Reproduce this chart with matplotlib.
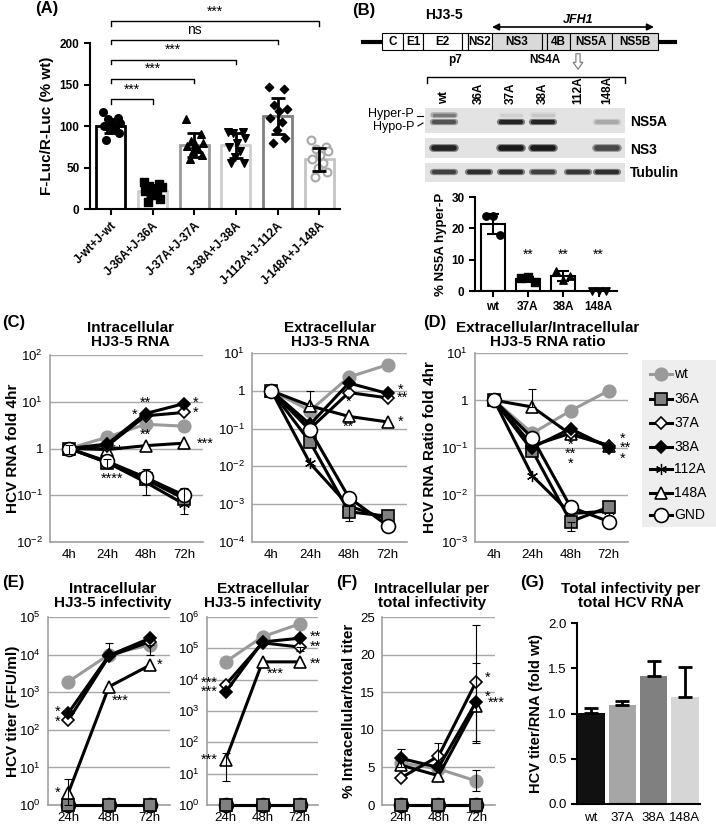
import numpy as np
import matplotlib
matplotlib.use('Agg')
import matplotlib.pyplot as plt
from matplotlib import patches
from matplotlib.ticker import NullLocator

plt.rcParams['font.family'] = ['Liberation Sans', 'DejaVu Sans']
plt.rcParams['mathtext.fontset'] = 'custom'
plt.rcParams['mathtext.rm'] = 'Liberation Sans'
plt.rcParams['mathtext.it'] = 'Liberation Sans:italic'
plt.rcParams['mathtext.bf'] = 'Liberation Sans:bold'

# ---------------- data ----------------
# (A) F-Luc/R-Luc
a_groups = ['J-wt+J-wt', 'J-36A+J-36A', 'J-37A+J-37A', 'J-38A+J-38A', 'J-112A+J-112A', 'J-148A+J-148A']
a_means = [100, 22, 77, 77, 112, 60]
a_sd = [9, 7, 14, 15, 22, 14]
a_pts_wt = [117, 110, 108, 104, 102, 100, 98, 95, 92, 83]
a_pts_36 = [32, 30, 28, 26, 24, 22, 20, 17, 12, 8]
a_pts_37 = [108, 90, 82, 80, 78, 76, 72, 70, 65, 60]
a_pts_38 = [93, 93, 91, 85, 80, 75, 70, 63, 55, 55]
a_pts_112 = [147, 145, 125, 120, 118, 110, 105, 95, 85, 80]
a_pts_148 = [83, 75, 72, 70, 65, 60, 55, 50, 45, 38]
a_brackets = [(1, 132, '***'), (2, 157, '***'), (3, 180, '***'), (4, 204, 'ns'), (5, 226, '***')]

# (B) western blot + hyper-P quantification
blot_lanes = ['wt', '36A', '37A', '38A', '112A', '148A']
band_hyper = [0.5, 0, 0.05, 0.1, 0, 0]
band_hypo = [0.7, 0, 0.95, 0.95, 0, 0.25]
band_ns3 = [0.95, 0, 1.0, 1.0, 0, 0.75]
band_tub = [0.8, 0.9, 0.9, 0.8, 0.85, 0.9]
genome_parts = ['C', 'E1', 'E2', '', 'NS2', 'NS3', '', '4B', 'NS5A', 'NS5B']
b_groups = ['wt', '37A', '38A', '148A']
b_means = [21.3, 3.8, 4.8, 0]
b_sd = [3.2, 0.8, 1.6, 0]
b_pts = [[23.8, 23.8, 17.8], [4.3, 4.4, 3.0], [6.3, 3.4, 4.8], [0, 0, 0]]
b_stars = ['', '**', '**', '**']

times4 = ['4h', '24h', '48h', '72h']
times3 = ['24h', '48h', '72h']

# (C) intracellular RNA (fold 4hr)
c_intra = {
    'wt': [1, 1.75, 3.3, 3.0],
    '112A': [1, 0.5, 0.19, 0.065],
    '36A': [1, 0.5, 0.22, 0.085],
    '148A': [1, 0.95, 1.15, 1.3],
    '37A': [1, 1.15, 5.0, 5.9],
    '38A': [1, 1.25, 5.6, 9.1],
    'GND': [1, 0.53, 0.24, 0.1],
}
c_intra_err = [('GND', 0, 0.78, 1.2), ('GND', 1, 0.38, 0.6), ('GND', 2, 0.1, 0.36),
               ('GND', 3, 0.04, 0.14), ('38A', 3, 8, 10.5)]
c_intra_stars = [(2.0, 9.5, '**'), (1.72, 5.3, '*'), (3.3, 9.5, '*'), (3.3, 5.8, '*'),
                 (2.0, 2.0, '**'), (3.55, 1.26, '***'), (1.25, 0.9, '**'), (1.12, 0.23, '****')]

# (C) extracellular RNA
c_extra = {
    'wt': [1, 0.3, 2.3, 4.9],
    '112A': [1, 0.012, 0.0009, 0.0004],
    '36A': [1, 0.044, 0.00063, 0.00048],
    '148A': [1, 0.4, 0.21, 0.15],
    '37A': [1, 0.1, 0.9, 0.65],
    '38A': [1, 0.13, 1.6, 0.85],
    'GND': [1, 0.09, 0.0015, 0.00027],
}
c_extra_err = [('148A', 1, 0.4, 1.0), ('36A', 2, 0.00035, 0.0009)]
c_extra_stars = [(2.0, 0.5, '*'), (2.0, 0.11, '**'), (3.33, 1.07, '*'), (3.38, 0.65, '**'),
                 (3.33, 0.15, '*')]

# (D) extra/intra ratio
d_ratio = {
    'wt': [1, 0.2, 0.6, 1.6],
    '112A': [1, 0.025, 0.004, 0.0045],
    '36A': [1, 0.085, 0.0027, 0.0055],
    '148A': [1, 0.72, 0.19, 0.11],
    '37A': [1, 0.11, 0.2, 0.11],
    '38A': [1, 0.1, 0.25, 0.1],
    'GND': [1, 0.16, 0.0055, 0.0027],
}
d_ratio_err = [('148A', 1, 0.72, 1.7), ('36A', 2, 0.0017, 0.0027)]
d_ratio_stars = [(2.0, 0.115, '*'), (2.0, 0.075, '**'), (2.0, 0.046, '*'),
                 (3.37, 0.155, '*'), (3.42, 0.1, '**'), (3.37, 0.059, '*')]

# (E) infectivity titers
e_intra = {
    'GND': [1, 1, 1],
    '36A': [1, 1, 1],
    'wt': [1900, 10000, 18000],
    '148A': [2.1, 1400, 5200],
    '37A': [180, 9000, 22000],
    '38A': [280, 9500, 27000],
}
e_intra_err = [('148A', 0, 1.0, 5), ('38A', 1, 9500, 20000), ('wt', 2, 10000, 18000)]
e_intra_stars = [(-0.27, 297, '*'), (-0.27, 162, '*'), (1.28, 600, '***'), (2.25, 5200, '*'),
                 (-0.27, 2.1, '*')]

e_extra = {
    'GND': [1, 1, 1],
    '36A': [1, 1, 1],
    'wt': [37000, 234000, 600000],
    '148A': [27, 37000, 37000],
    '37A': [6800, 150000, 110000],
    '38A': [4000, 160000, 210000],
}
e_extra_err = [('148A', 0, 6, 45), ('37A', 2, 80000, 110000)]
e_extra_stars = [(2.42, 2.3e5, '**'), (2.42, 1.1e5, '**'), (2.42, 3.2e4, '**'),
                 (1.34, 1.5e4, '***'), (-0.45, 7900, '***'), (-0.45, 4100, '***'), (-0.45, 27, '***')]

# (F) % intracellular / total titer
f_pct = {
    'GND': [0, 0, 0],
    '36A': [0, 0, 0],
    'wt': [5.6, 4.8, 3.2],
    '148A': [5.3, 3.9, 13.2],
    '37A': [3.6, 6.5, 16.4],
    '38A': [6.2, 5.0, 13.7],
}
f_pct_err = [('38A', 0, 5.0, 7.4), ('37A', 1, 5.0, 8.3), ('37A', 2, 8.5, 24.0),
             ('38A', 2, 8.3, 18.9), ('wt', 2, 1.8, 4.7)]
f_pct_stars = [(2.3, 16.9, '*'), (2.3, 14.4, '*'), (2.52, 13.6, '***')]

# (G) titer per RNA
g_groups = ['wt', '37A', '38A', '148A']
g_vals = [1.01, 1.09, 1.41, 1.18]
g_err = [0.05, 0.05, 0.17, 0.33]

legend_order = ['wt', '36A', '37A', '38A', '112A', '148A', 'GND']

# ---------------- styles ----------------
W, H = 716, 825
fig = plt.figure(figsize=(W / 100, H / 100), dpi=100)

styles = {
    'wt': dict(color='#9a9a9a', marker='o', mfc='#9a9a9a', mec='#9a9a9a', ms=9, mew=1.2),
    '36A': dict(color='k', marker='s', mfc='#808080', mec='k', ms=8, mew=1.2),
    '37A': dict(color='k', marker='D', mfc='white', mec='k', ms=6, mew=1.2),
    '38A': dict(color='k', marker='D', mfc='k', mec='k', ms=6, mew=1.2),
    '112A': dict(color='k', marker=(6, 2, 0), mfc='k', mec='k', ms=8, mew=0.9),
    '148A': dict(color='k', marker='^', mfc='white', mec='k', ms=9, mew=1.2),
    'GND': dict(color='k', marker='o', mfc='white', mec='k', ms=10, mew=1.2),
}


def px_axes(x0, y0, x1, y1):
    return fig.add_axes([x0 / W, 1 - y1 / H, (x1 - x0) / W, (y1 - y0) / H])


def pow_label(e):
    return '1' if e == 0 else r'$10^{%d}$' % e


# overlay in pixel coordinates for drawings / titles
ov = fig.add_axes([0, 0, 1, 1])
ov.set_xlim(0, W)
ov.set_ylim(H, 0)
ov.axis('off')

for lab, x, y in [('(A)', 35, 8), ('(B)', 352, 10), ('(C)', 2, 323), ('(D)', 423, 323),
                  ('(E)', 2, 583), ('(F)', 336, 583), ('(G)', 520, 583)]:
    ov.text(x, y, lab, fontsize=12, fontweight='bold', va='center', ha='left')

for txt, x, y in [('Intracellular\nHJ3-5 RNA', 130, 335), ('Extracellular\nHJ3-5 RNA', 330, 335),
                  ('Extracellular/Intracellular\nHJ3-5 RNA ratio', 548, 335),
                  ('Intracellular\nHJ3-5 infectivity', 113, 596),
                  ('Extracellular\nHJ3-5 infectivity', 263, 596),
                  ('Intracellular per\ntotal infectivity', 432, 596),
                  ('Total infectivity per\ntotal HCV RNA', 631, 596)]:
    ov.text(x, y, txt, fontsize=11, fontweight='bold', ha='center', va='center', linespacing=1.05)

# ---------------- (A) ----------------
ax = px_axes(90, 43, 340, 209)
xa = np.arange(len(a_groups))
a_edge = ['k', '#cfcfcf', '#9a9a9a', '#cfcfcf', '#808080', '#c4c4c4']
ax.bar(xa, a_means, width=0.7, color='white', edgecolor=a_edge, linewidth=2, zorder=1)
jit = np.array([-0.2, 0.16, -0.08, 0.22, 0.03, -0.17, 0.1, -0.02, 0.19, -0.11])
a_pts = [a_pts_wt, a_pts_36, a_pts_37, a_pts_38, a_pts_112, a_pts_148]
a_mk = [dict(marker='o', c='k'), dict(marker='s', c='k'), dict(marker='^', c='k'),
        dict(marker='v', c='k'), dict(marker='D', c='k', s=18)]
for i, pts in enumerate(a_pts):
    if i < 5:
        kw = dict(s=30)
        kw.update(a_mk[i])
        ax.scatter(xa[i] + jit[:len(pts)], pts, zorder=2, **kw)
    else:
        ax.scatter(xa[i] + jit[:len(pts)], pts, s=32, facecolor='white', edgecolor='#a8a8a8',
                   linewidth=1.5, zorder=2)
ax.errorbar(xa, a_means, yerr=a_sd, fmt='none', ecolor='k', elinewidth=2, capsize=5,
            capthick=2, zorder=3)
for j, yb, lab in a_brackets:
    ax.plot([0, 0, j, j], [yb - 5, yb, yb, yb - 5], color='k', lw=1, clip_on=False)
    ax.text(j / 2, yb + 3, lab, ha='center', va='bottom', fontsize=10)
ax.set_xlim(-0.5, 5.5)
ax.set_ylim(0, 200)
ax.set_yticks([0, 50, 100, 150, 200])
ax.set_xticks(xa)
ax.set_xticklabels(a_groups, rotation=45, ha='right', rotation_mode='anchor',
                   fontweight='bold', fontsize=8.5)
for t in ax.get_yticklabels():
    t.set_fontweight('bold')
ax.tick_params(labelsize=8.5, width=1.5, length=4)
ax.tick_params(axis='x', labelsize=8.5)
for s in ['top', 'right']:
    ax.spines[s].set_visible(False)
for s in ['left', 'bottom']:
    ax.spines[s].set_linewidth(1.5)
ax.set_ylabel('F-Luc/R-Luc (% wt)', fontweight='bold', fontsize=11, labelpad=4)
ax.patch.set_alpha(0)

# ---------------- (B) drawing ----------------
ov.text(425, 15, 'HJ3-5', fontsize=10, fontweight='bold', va='center')
ov.plot([363, 675], [42, 42], color='k', lw=3, zorder=1)
edges = [382, 403, 423, 462, 468, 492, 542, 547, 570, 612, 658]
for k, lab in enumerate(genome_parts):
    fc = 'white' if k < 5 else '#d9d9d9'
    ov.add_patch(patches.Rectangle((edges[k], 33), edges[k + 1] - edges[k], 17, facecolor=fc,
                                   edgecolor='k', lw=0.8, zorder=2))
    if lab:
        ov.text((edges[k] + edges[k + 1]) / 2, 42, lab, fontsize=8.5, fontweight='bold',
                ha='center', va='center', zorder=3)
ov.text(455, 60, 'p7', fontsize=8.5, fontweight='bold', ha='center', va='center')
ov.text(545, 60, 'NS4A', fontsize=8.5, fontweight='bold', ha='center', va='center')
ov.annotate('', xy=(492, 27), xytext=(654, 27),
            arrowprops=dict(arrowstyle='<|-|>', color='k', lw=1.2, shrinkA=0, shrinkB=0))
ov.text(578, 20, 'JFH1', fontsize=9, fontweight='bold', style='italic', ha='center', va='center')
ov.annotate('', xy=(578, 72), xytext=(578, 51),
            arrowprops=dict(arrowstyle='simple,head_width=0.7,head_length=0.5,tail_width=0.3',
                            fc='white', ec='#777777', lw=0.8))
ov.plot([427, 427, 625, 625], [83, 77, 77, 83], color='k', lw=1)

lane_x = [444, 479, 511, 543, 578, 607]
for cx, lab in zip(lane_x, blot_lanes):
    ov.text(cx, 104, lab, rotation=90, fontsize=8.5, fontweight='bold', ha='center', va='bottom')

for y0, y1 in [(108, 133), (138, 158), (163, 182)]:
    ov.add_patch(patches.Rectangle((425, y0), 200, y1 - y0, facecolor='#e3e3e3', edgecolor='none'))


def band(cx, y, v, h):
    if v <= 0:
        return
    # soft edge then darker core
    ov.plot([cx - 11, cx + 11], [y, y], color=str(0.9 - 0.45 * v), lw=h + 1.5,
            solid_capstyle='round')
    ov.plot([cx - 10, cx + 10], [y, y], color=str(0.85 - 0.75 * v), lw=h,
            solid_capstyle='round')


for i, cx in enumerate(lane_x):
    band(cx, 115, band_hyper[i], 2.5)
    band(cx, 122, band_hypo[i], 3)
    band(cx, 148, band_ns3[i], 4)
    band(cx, 172, band_tub[i], 3)
ov.text(630, 122, 'NS5A', fontsize=10, fontweight='bold', va='center')
ov.text(630, 150, 'NS3', fontsize=10, fontweight='bold', va='center')
ov.text(630, 173, 'Tubulin', fontsize=10, fontweight='bold', va='center')
ov.text(368, 114, 'Hyper-P', fontsize=9, va='center')
ov.text(373, 127, 'Hypo-P', fontsize=9, va='center')
ov.plot([417, 423], [116, 116], color='k', lw=0.8)
ov.plot([418, 423], [126, 123], color='k', lw=0.8)

# (B) quantification
ax = px_axes(475, 197, 617, 291)
xb = np.arange(len(b_groups))
ax.bar(xb, b_means, width=0.68, color='white', edgecolor='k', linewidth=1.5, zorder=1)
ax.errorbar(xb, b_means, yerr=b_sd, fmt='none', ecolor='k', elinewidth=1.5, capsize=4,
            capthick=1.5, zorder=3)
b_mk = ['o', 's', '^', 'v']
boff = [-0.2, 0.0, 0.2]
for i, pts in enumerate(b_pts):
    ax.scatter(xb[i] + np.array(boff), pts, marker=b_mk[i], s=28, c='k', zorder=2, clip_on=False)
    if b_stars[i]:
        ax.text(xb[i], 11.5, b_stars[i], ha='center', va='center', fontsize=10)
ax.set_xlim(-0.5, 3.52)
ax.set_ylim(0, 30)
ax.set_yticks([0, 10, 20, 30])
ax.set_xticks(xb)
ax.set_xticklabels(b_groups, fontweight='bold')
for t in ax.get_yticklabels():
    t.set_fontweight('bold')
ax.tick_params(labelsize=8.5, width=1.5, length=4)
for s in ['top', 'right']:
    ax.spines[s].set_visible(False)
for s in ['left', 'bottom']:
    ax.spines[s].set_linewidth(1.5)
ax.set_ylabel('% NS5A hyper-P', fontweight='bold', fontsize=9.5, labelpad=3)
ax.patch.set_alpha(0)


# ---------------- line panels ----------------
def line_panel(box, labels, data, errs, stars, ylim, ticks, ticklabels, ylabel=None, log=True,
               label_x=None):
    ax = px_axes(*box)
    x = np.arange(len(labels))
    if log:
        ax.set_yscale('log')
    for name, vals in data.items():
        st = styles[name]
        ax.plot(x, vals, color=st['color'], lw=2.2, marker=st['marker'], ms=st['ms'],
                mfc=st['mfc'], mec=st['mec'], mew=st['mew'], zorder=3, clip_on=False)
    for name, k, lo, hi in errs:
        v = data[name][k]
        ax.errorbar([k], [v], yerr=[[v - lo], [hi - v]], fmt='none', ecolor='k', elinewidth=0.8,
                    capsize=3, capthick=0.8, zorder=4)
    for sx, sy, s in stars:
        ax.text(sx, sy, s, ha='center', va='center', fontsize=10.5, zorder=5)
    ax.set_xlim(-0.5, len(labels) - 0.5)
    ax.set_ylim(*ylim)
    ax.set_yticks(ticks)
    ax.set_yticklabels(ticklabels)
    ax.yaxis.set_minor_locator(NullLocator())
    ax.set_xticks(x)
    ax.set_xticklabels(labels)
    ax.tick_params(length=0, labelsize=9.5, pad=5)
    ax.grid(axis='y', color='#a8a8a8', lw=1)
    ax.set_axisbelow(True)
    for s in ['top', 'right']:
        ax.spines[s].set_visible(False)
    for s in ['left', 'bottom']:
        ax.spines[s].set_color('#a0a0a0')
        ax.spines[s].set_linewidth(1.2)
    if ylabel:
        ax.set_ylabel(ylabel, fontweight='bold', fontsize=11, labelpad=3)
        if label_x is not None:
            ax.yaxis.set_label_coords((label_x - box[0]) / (box[2] - box[0]), 0.5)
    ax.patch.set_alpha(0)
    return ax


line_panel((50, 355, 203, 542), times4, c_intra, c_intra_err, c_intra_stars, (1e-2, 1e2),
           [1e-2, 1e-1, 1, 1e1, 1e2], [pow_label(e) for e in range(-2, 3)], 'HCV RNA fold 4hr',
           label_x=20)
line_panel((252, 353, 407, 542), times4, c_extra, c_extra_err, c_extra_stars, (1e-4, 1e1),
           [10.0 ** e for e in range(-4, 2)], [pow_label(e) for e in range(-4, 2)])
line_panel((475, 353, 628, 542), times4, d_ratio, d_ratio_err, d_ratio_stars, (1e-3, 1e1),
           [10.0 ** e for e in range(-3, 2)], [pow_label(e) for e in range(-3, 2)],
           'HCV RNA Ratio fold 4hr')
line_panel((48, 617, 170, 805), times3, e_intra, e_intra_err, e_intra_stars, (1, 1e5),
           [10.0 ** e for e in range(0, 6)], [r'$10^{%d}$' % e for e in range(0, 6)],
           'HCV titer (FFU/ml)', label_x=20)
line_panel((207, 617, 318, 805), times3, e_extra, e_extra_err, e_extra_stars, (1, 1e6),
           [10.0 ** e for e in range(0, 7)], [r'$10^{%d}$' % e for e in range(0, 7)])
line_panel((382, 617, 495, 805), times3, f_pct, f_pct_err, f_pct_stars, (0, 25),
           [0, 5, 10, 15, 20, 25], ['0', '5', '10', '15', '20', '25'],
           '% Intracellular/total titer', log=False)

# legend box
ov.add_patch(patches.Rectangle((642, 360), 74, 167, facecolor='#eeeeee', edgecolor='none'))
leg_y = [374, 399, 423, 447, 469, 493, 515]
for name, y in zip(legend_order, leg_y):
    st = styles[name]
    ov.plot([650, 672], [y, y], color=st['color'], lw=2.2)
    ov.plot([661], [y], marker=st['marker'], ms=st['ms'], mfc=st['mfc'], mec=st['mec'],
            mew=st['mew'], color=st['color'])
    ov.text(674, y, name, fontsize=10, va='center', ha='left')

# ---------------- (G) ----------------
ax = px_axes(577, 623, 700, 804)
xg = np.arange(len(g_groups))
ax.bar(xg, g_vals, width=0.88, color=['#111111', '#a6a6a6', '#808080', '#d6d6d6'], zorder=2)
ax.errorbar(xg, g_vals, yerr=[[0] * 4, g_err], fmt='none', ecolor='k', elinewidth=2,
            capsize=5, capthick=2, zorder=3)
ax.set_xlim(-0.45, 3.48)
ax.set_ylim(0, 2.0)
ax.set_yticks([0, 0.5, 1.0, 1.5, 2.0])
ax.set_yticklabels(['0.0', '0.5', '1.0', '1.5', '2.0'])
ax.set_xticks(xg)
ax.set_xticklabels(g_groups)
ax.tick_params(axis='y', labelsize=9.5, width=1.5, length=4)
ax.tick_params(axis='x', labelsize=9.5, length=0, pad=6)
for s in ['top', 'right']:
    ax.spines[s].set_visible(False)
for s in ['left', 'bottom']:
    ax.spines[s].set_linewidth(1.5)
ax.set_ylabel('HCV titer/RNA (fold wt)', fontweight='bold', fontsize=10.5, labelpad=4)
ax.patch.set_alpha(0)

fig.savefig('out.png', dpi=100)
